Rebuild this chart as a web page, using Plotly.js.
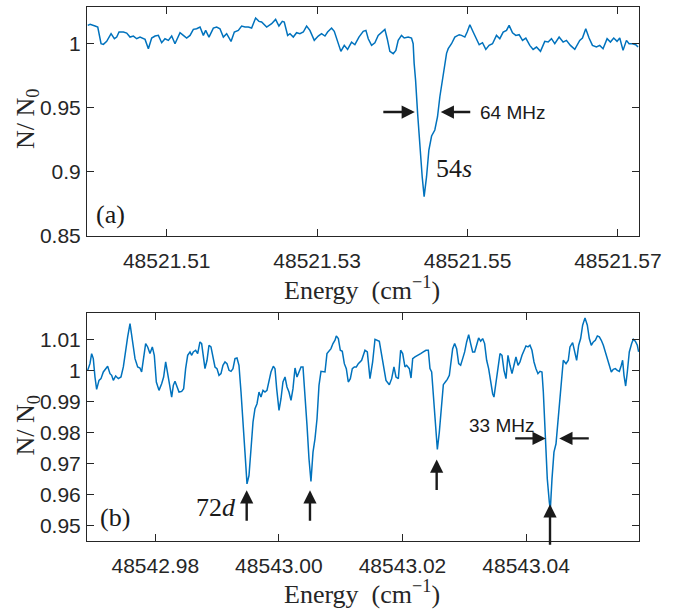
<!DOCTYPE html>
<html>
<head>
<meta charset="utf-8">
<script src="https://cdn.plot.ly/plotly-3.0.1.min.js"></script>
<style>html,body{margin:0;padding:0;background:#fff;}#chart{width:685px;height:610px;}</style>
</head>
<body>
<div id="chart"></div>
<script>
// ---------- Panel (a): 54s resonance ----------
var energyA = [
48521.49950,48521.49981,48521.50047,48521.50083,48521.50127,48521.50158,48521.50202,48521.50260,48521.50304,48521.50335,
48521.50366,48521.50424,48521.50468,48521.50512,48521.50557,48521.50601,48521.50645,48521.50712,48521.50756,48521.50800,
48521.50845,48521.50889,48521.50933,48521.50977,48521.51022,48521.51066,48521.51110,48521.51177,48521.51221,48521.51265,
48521.51310,48521.51354,48521.51398,48521.51443,48521.51487,48521.51518,48521.51562,48521.51620,48521.51664,48521.51708,
48521.51753,48521.51797,48521.51855,48521.51899,48521.51952,48521.51996,48521.52041,48521.52085,48521.52129,48521.52182,
48521.52227,48521.52262,48521.52329,48521.52395,48521.52448,48521.52492,48521.52537,48521.52563,48521.52608,48521.52639,
48521.52683,48521.52727,48521.52771,48521.52816,48521.52860,48521.52904,48521.52962,48521.53015,48521.53059,48521.53104,
48521.53139,48521.53192,48521.53228,48521.53272,48521.53316,48521.53361,48521.53405,48521.53458,48521.53502,48521.53556,
48521.53613,
48521.53649,48521.53680,48521.53724,48521.53768,48521.53812,48521.53857,48521.53901,48521.53932,48521.53967,48521.54012,
48521.54047,48521.54078,48521.54122,48521.54158,48521.54211,48521.54255,48521.54277,
48521.54290,48521.54309,48521.54336,48521.54366,48521.54397,48521.54423,48521.54455,48521.54486,48521.54522,48521.54565,
48521.54601,48521.54632,48521.54676,48521.54721,
48521.54743,48521.54787,48521.54831,48521.54889,48521.54920,48521.54964,48521.54995,48521.55031,48521.55075,48521.55119,
48521.55155,48521.55199,48521.55243,48521.55287,48521.55332,48521.55385,48521.55429,48521.55474,48521.55518,48521.55553,
48521.55598,48521.55642,48521.55686,48521.55731,48521.55775,48521.55828,48521.55872,48521.55917,48521.55970,48521.56027,
48521.56072,48521.56116,48521.56160,48521.56218,48521.56271,48521.56315,48521.56368,48521.56426,48521.56492,48521.56528,
48521.56572,48521.56616,48521.56661,48521.56714,48521.56758,48521.56802,48521.56856,48521.56900,48521.56944,48521.56988,
48521.57024,48521.57068,48521.57113,48521.57148,48521.57192,48521.57237,48521.57267
];
var ratioA = [
1.01399,1.01477,1.01347,1.01269,0.99971,0.99920,1.00153,1.00750,1.00361,1.00490,
1.00880,1.00880,1.00802,1.00490,1.00568,1.00361,1.00490,1.00309,0.99582,1.00413,
1.00568,1.00620,1.00049,1.00361,1.00231,1.00568,0.99971,1.00828,1.00620,1.00413,
1.00620,1.01087,1.01139,1.01269,1.00620,1.01010,1.00490,1.01191,1.01269,1.01139,
1.00490,1.00750,1.00153,1.00880,1.01010,1.01347,1.01269,1.01269,1.01191,1.01970,
1.01710,1.01658,1.01269,1.01528,1.01866,1.01347,1.01710,1.01658,1.00620,1.00750,
1.00490,1.00828,1.00750,1.00880,1.01347,1.01010,1.00231,1.00568,1.00750,1.00568,
1.00880,1.01191,1.00932,1.00231,0.99375,0.99842,0.99531,1.00101,0.99894,1.00490,
1.00932,
1.01010,1.00361,0.99842,1.00049,1.00620,1.00880,1.01087,1.00361,0.99375,0.99193,
0.99453,1.00231,1.00620,1.00413,1.00490,1.00413,0.99971,
0.98443,0.97143,0.94551,0.91951,0.89615,0.88059,0.89615,0.91694,0.92784,0.93251,
0.94286,0.95843,0.97665,0.99222,
0.99582,0.99971,1.00490,1.00672,1.00620,1.00490,1.00880,1.01450,1.00880,1.00361,
0.99894,1.00049,0.99531,0.99842,0.99971,1.00620,1.00361,1.00880,1.01010,1.01399,
1.00828,1.00620,1.00672,1.00231,1.00413,0.99842,0.99531,0.99712,0.99375,1.00153,
1.00101,1.00361,0.99971,1.00490,1.00101,1.00231,0.99842,0.99531,1.00231,1.00413,
1.01139,1.00413,0.99842,0.99712,0.99842,0.99582,1.00361,1.00101,1.00413,1.00153,
1.00413,0.99453,1.00231,0.99971,0.99971,0.99894,0.99712
];

// ---------- Panel (b): 72d resonances ----------
var energyB = [
48542.96906,48542.96943,48542.96970,48542.96997,48542.97024,48542.97051,48542.97089,48542.97121,48542.97159,48542.97197,
48542.97229,48542.97267,48542.97294,48542.97321,48542.97359,48542.97402,48542.97445,48542.97483,48542.97521,48542.97553,
48542.97591,48542.97628,48542.97672,48542.97715,48542.97752,48542.97779,48542.97806,48542.97844,48542.97877,48542.97914,
48542.97952,48542.97984,48542.98017,48542.98060,48542.98103,48542.98135,48542.98168,48542.98200,48542.98233,48542.98265,
48542.98292,48542.98319,48542.98351,48542.98384,48542.98427,48542.98459,48542.98491,48542.98524,48542.98562,48542.98589,
48542.98615,48542.98653,48542.98686,48542.98723,48542.98750,48542.98777,48542.98804,48542.98837,48542.98869,48542.98901,
48542.98934,48542.98966,48542.98998,48542.99031,48542.99063,48542.99095,48542.99128,48542.99160,48542.99193,48542.99225,
48542.99257,48542.99290,48542.99322,48542.99354,48542.99387,48542.99419,48542.99451,48542.99484,48542.99516,48542.99549,
48542.99581,48542.99613,48542.99646,48542.99678,48542.99710,48542.99743,48542.99775,48542.99807,48542.99840,48542.99872,
48542.99910,48542.99937,48542.99964,48543.00002,48543.00034,48543.00066,48543.00099,48543.00131,48543.00163,48543.00196,
48543.00228,48543.00261,48543.00293,48543.00325,48543.00358,48543.00390,48543.00422,48543.00455,48543.00487,48543.00519,
48543.00552,48543.00584,48543.00617,48543.00649,48543.00681,48543.00714,48543.00746,48543.00778,48543.00811,48543.00843,
48543.00875,48543.00908,48543.00929,48543.00962,48543.00994,48543.01026,48543.01059,48543.01091,48543.01123,48543.01156,
48543.01188,48543.01221,48543.01253,48543.01285,
48543.01339,48543.01393,48543.01431,48543.01474,48543.01517,48543.01555,48543.01625,48543.01690,48543.01733,48543.01787,
48543.01825,48543.01862,48543.01895,48543.01933,48543.01970,48543.02003,48543.02040,48543.02067,48543.02111,48543.02138,
48543.02165,48543.02202,48543.02240,48543.02294,48543.02337,48543.02380,48543.02418,48543.02445,48543.02472,48543.02499,
48543.02531,48543.02564,48543.02596,48543.02628,48543.02661,48543.02693,48543.02725,48543.02758,48543.02779,48543.02812,
48543.02844,48543.02876,48543.02909,48543.02941,48543.02974,48543.03006,48543.03038,48543.03071,48543.03103,48543.03135,
48543.03168,48543.03200,48543.03232,48543.03265,48543.03297,48543.03329,48543.03362,48543.03394,48543.03427,48543.03459,
48543.03480,48543.03513,48543.03545,48543.03578,48543.03610,48543.03642,48543.03675,48543.03707,48543.03739,48543.03772,
48543.03804,48543.03836,48543.03869,48543.03901,48543.03934,48543.03966,48543.03998,48543.04031,48543.04063,48543.04095,
48543.04128,48543.04160,48543.04192,48543.04225,48543.04257,48543.04279,48543.04311,48543.04343,48543.04376,48543.04392,
48543.04419,48543.04451,48543.04484,48543.04516,48543.04548,48543.04581,48543.04602,48543.04646,48543.04683,48543.04710,
48543.04753,48543.04775,48543.04818,48543.04851,48543.04883,48543.04915,48543.04953,48543.04991,48543.05023,48543.05055,
48543.05088,48543.05120,48543.05153,48543.05185,48543.05217,48543.05250,48543.05282,48543.05314,48543.05347,48543.05379,
48543.05411,48543.05444,48543.05476,48543.05509,48543.05541,48543.05562,48543.05584,48543.05611,48543.05638,48543.05670,
48543.05708,48543.05735,48543.05767,48543.05800,48543.05821
];
var ratioB = [
1.00005,1.00220,1.00543,1.00382,0.99790,0.99393,0.99683,0.99737,0.99952,1.00059,
1.00135,0.99898,0.99844,0.99683,0.99823,0.99737,0.99790,1.00113,1.00704,1.01081,
1.01511,1.01027,1.00382,1.00113,1.00081,0.99952,1.00382,1.00866,1.00758,1.00543,
1.00758,1.00489,0.99629,0.99360,0.99575,0.99790,1.00274,0.99952,0.99522,0.99145,
0.99522,0.99651,0.99468,0.99306,0.99328,0.99414,1.00059,1.00489,1.00597,1.00489,
1.00597,1.00651,1.00543,1.00919,1.00866,1.00382,1.00059,1.00328,1.00812,1.00758,
1.00382,1.00113,1.00059,0.99844,0.99898,1.00167,1.00274,1.00220,1.00005,0.99973,
1.00059,1.00382,1.00403,1.00167,0.99306,0.98446,0.97371,0.96349,0.96618,0.97478,
0.98339,0.98769,0.98930,0.99306,0.99145,0.99360,0.99306,0.99360,0.99683,0.99952,
1.00135,1.00059,0.99414,0.98715,0.99091,0.99629,0.99790,0.99468,0.99306,0.99038,
0.99414,1.00081,0.99790,0.99952,1.00113,1.00113,0.99306,0.98231,0.97156,0.96425,
0.97371,0.97801,0.98446,0.99522,0.99973,0.99952,0.99952,1.00543,1.00618,1.00704,
1.00866,1.00973,1.01113,1.01027,1.00651,1.00618,1.00220,1.00059,0.99629,0.99737,
1.00059,1.00113,1.00113,1.00220,
1.00328,1.00651,1.00597,0.99737,1.00274,1.01005,1.00941,1.00167,0.99683,0.99543,
0.99737,1.00113,0.99790,0.99737,1.00651,1.00543,1.00113,1.00167,1.00059,0.99758,
1.00382,1.00435,1.00489,1.00543,1.00597,1.00651,1.00651,1.00059,0.99952,0.99199,
0.98231,0.97457,0.98016,0.98876,0.99543,0.99629,0.99715,0.99844,1.00167,1.00704,
1.00866,1.00704,1.00220,1.00167,1.00382,1.00597,1.00919,1.01156,1.00866,1.00597,
1.00597,1.00812,1.01048,1.00941,1.01027,1.00866,1.00328,1.00059,0.99629,0.99253,
0.99145,0.99629,1.00220,1.00543,1.00489,1.00005,0.99737,1.00489,1.00167,0.99898,
1.00167,1.00435,1.00167,1.00274,1.00489,1.00651,1.00790,1.00758,1.00812,1.00651,
1.00274,1.00059,0.99898,0.99973,0.99952,0.99306,0.97801,0.96511,0.95758,0.95522,
0.96511,0.97371,0.97640,0.98339,0.98984,0.99844,1.00328,1.00220,1.00328,1.00758,
1.00898,1.00704,1.00328,1.00812,1.01027,1.01457,1.01694,1.01457,1.01027,1.00812,
1.00919,1.00973,1.01113,1.01081,1.00973,1.00812,1.00597,1.00382,1.00167,0.99952,
1.00038,1.00059,1.00005,0.99973,1.00167,1.00328,0.99844,0.99500,0.99952,1.00597,
1.00866,1.01005,1.00941,1.00812,1.00597
];

// ---------- Tick labels ----------
var xTickValsA = [48521.51, 48521.53, 48521.55, 48521.57];
var xTickTextA = ['48521.51', '48521.53', '48521.55', '48521.57'];
var yTickValsA = [0.85, 0.9, 0.95, 1];
var yTickTextA = ['0.85', '0.9', '0.95', '1'];
var xTickValsB = [48542.98, 48543.00, 48543.02, 48543.04];
var xTickTextB = ['48542.98', '48543.00', '48543.02', '48543.04'];
var yTickValsB = [0.95, 0.96, 0.97, 0.98, 0.99, 1, 1.01];
var yTickTextB = ['0.95', '0.96', '0.97', '0.98', '0.99', '1', '1.01'];

// ---------- Styling ----------
var lineColor = '#0072BD';
var axisColor = '#262626';
var sansFont = 'Liberation Sans, Arial, sans-serif';
var serifFont = 'Liberation Serif, Times New Roman, serif';

function axisStyle(extra) {
  var base = {
    showline: true, linecolor: axisColor, linewidth: 1, mirror: 'ticks',
    ticks: 'inside', ticklen: 7, tickwidth: 1, tickcolor: axisColor,
    showgrid: false, zeroline: false,
    tickfont: {family: sansFont, size: 21, color: axisColor}
  };
  for (var k in extra) base[k] = extra[k];
  return base;
}

var traces = [
  {x: energyA, y: ratioA, type: 'scatter', mode: 'lines', xaxis: 'x', yaxis: 'y',
   line: {color: lineColor, width: 1.5}, hoverinfo: 'skip'},
  {x: energyB, y: ratioB, type: 'scatter', mode: 'lines', xaxis: 'x2', yaxis: 'y2',
   line: {color: lineColor, width: 1.5}, hoverinfo: 'skip'}
];

var titleFont = {family: serifFont, size: 26, color: axisColor};
var xTitleText = 'Energy&nbsp;&nbsp;(cm<sup>−1</sup>)';
var yTitleText = 'N/ N<sub>0</sub>';

var layout = {
  width: 685, height: 610,
  margin: {l: 87, r: 46, t: 7, b: 69},
  paper_bgcolor: '#ffffff', plot_bgcolor: '#ffffff',
  showlegend: false,
  xaxis: axisStyle({anchor: 'y', range: [48521.4994, 48521.5728], ticklabelstandoff: 6,
    tickmode: 'array', tickvals: xTickValsA, ticktext: xTickTextA}),
  yaxis: axisStyle({anchor: 'x', domain: [0.5712, 1], range: [0.85, 1.0283], ticklabelstandoff: 1,
    tickmode: 'array', tickvals: yTickValsA, ticktext: yTickTextA}),
  xaxis2: axisStyle({anchor: 'y2', range: [48542.96895, 48543.05827], ticklabelstandoff: 6,
    tickmode: 'array', tickvals: xTickValsB, ticktext: xTickTextB}),
  yaxis2: axisStyle({anchor: 'x2', domain: [0, 0.4275], range: [0.9451, 1.0186], ticklabelstandoff: 1,
    tickmode: 'array', tickvals: yTickValsB, ticktext: yTickTextB}),
  annotations: []
};

function arrow(xref, yref, x, y, ax, ay) {
  return {xref: xref, yref: yref, x: x, y: y, ax: ax, ay: ay, text: '',
    showarrow: true, arrowhead: 2, arrowsize: 1.1, arrowwidth: 2.4, arrowcolor: '#1a1a1a'};
}
function label(xref, yref, x, y, text, font, xanchor, angle) {
  return {xref: xref, yref: yref, x: x, y: y, text: text, showarrow: false,
    font: font, xanchor: xanchor || 'center', yanchor: 'middle', textangle: angle || 0};
}
var annSans = {family: sansFont, size: 19, color: '#1a1a1a'};
var annSerif = {family: serifFont, size: 26, color: '#1a1a1a'};

layout.annotations.push(
  // axis titles
  label('paper', 'paper', 0.4982, 0.4720, xTitleText, titleFont),
  label('paper', 'paper', 0.4982, -0.0960, xTitleText, titleFont),
  label('paper', 'paper', -0.1078, 0.7912, yTitleText, titleFont, 'center', -90),
  label('paper', 'paper', -0.1078, 0.2172, yTitleText, titleFont, 'center', -90),
  // panel (a)
  arrow('x', 'y', 48521.54299, 0.9465, -33, 0),
  arrow('x', 'y', 48521.54644, 0.9465, 31, 0),
  label('x', 'y', 48521.55136, 0.9465, '64 MHz', annSans, 'left'),
  label('x', 'y', 48521.54817, 0.9022, '54<i>s</i>', annSerif),
  label('x', 'y', 48521.50247, 0.8671, '(a)', annSerif),
  // panel (b)
  arrow('x2', 'y2', 48542.99479, 0.96145, 0, 32),
  arrow('x2', 'y2', 48543.00503, 0.96145, 0, 32),
  arrow('x2', 'y2', 48543.02553, 0.97135, 0, 32),
  arrow('x2', 'y2', 48543.04387, 0.95694, 0, 42),
  arrow('x2', 'y2', 48543.04317, 0.97813, -32, 0),
  arrow('x2', 'y2', 48543.04537, 0.97813, 31, 0),
  label('x2', 'y2', 48543.03594, 0.98226, '33 MHz', annSans),
  label('x2', 'y2', 48542.99338, 0.95597, '72<i>d</i>', annSerif, 'right'),
  label('x2', 'y2', 48542.97356, 0.95274, '(b)', annSerif)
);

Plotly.newPlot('chart', traces, layout, {staticPlot: true, displayModeBar: false});
</script>
</body>
</html>
